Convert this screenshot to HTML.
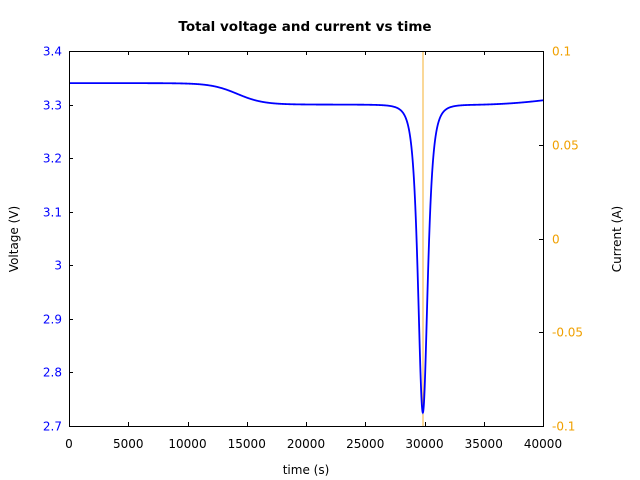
<!DOCTYPE html>
<html><head><meta charset="utf-8"><style>
html,body{margin:0;padding:0;background:#fff;}
svg{display:block;font-family:"DejaVu Sans","Liberation Sans",sans-serif;}
</style></head><body>
<svg id="s" width="640" height="480" viewBox="0 0 640 480" xmlns="http://www.w3.org/2000/svg">
<rect width="640" height="480" fill="#fff"/>
<text x="305" y="31" font-size="13.5" font-weight="bold" text-anchor="middle">Total voltage and current vs time</text>
<line x1="423" y1="51" x2="423" y2="426" stroke="#f5b030" stroke-width="1"/>
<path id="v" fill="none" stroke="#0000ff" stroke-width="1.8"/>
<rect x="69.5" y="51.5" width="474" height="375" fill="none" stroke="#000" stroke-width="1"/>
<g id="ticks" stroke="#000" stroke-width="1"></g>
<g id="lbl" font-size="12"></g>
<text x="306" y="474" font-size="12" text-anchor="middle">time (s)</text>
<text transform="translate(18,239) rotate(-90)" font-size="12" text-anchor="middle">Voltage (V)</text>
<text transform="translate(621,239) rotate(-90)" font-size="12" text-anchor="middle">Current (A)</text>
</svg>
<script>
var NS="http://www.w3.org/2000/svg";
function X(t){return 69+t/40000*474;}
function Y(v){return 51+(3.4-v)/0.7*375;}
function V(t){
 var v=3.34-0.04/(1+Math.exp(-(t-14200)/1100));
 var d=(t-29860)/740; v-=0.575/Math.pow(1+d*d,2);
 if(t>34000){var u=(t-34000)/6000;v+=0.008*u*u;}
 return v;}
var p="";for(var t=0;t<=40000;t+=20){p+=(t?"L":"M")+X(t).toFixed(2)+" "+Y(V(t)).toFixed(2);}
document.getElementById("v").setAttribute("d",p);
var tk=document.getElementById("ticks"),lb=document.getElementById("lbl");
function ln(a,b,c,d){var l=document.createElementNS(NS,"line");l.setAttribute("x1",a);l.setAttribute("y1",b);l.setAttribute("x2",c);l.setAttribute("y2",d);tk.appendChild(l);}
function tx(x,y,s,anc,col){var e=document.createElementNS(NS,"text");e.setAttribute("x",x);e.setAttribute("y",y);e.setAttribute("text-anchor",anc);e.setAttribute("fill",col);e.textContent=s;lb.appendChild(e);}
for(var i=0;i<=8;i++){var x=Math.round(X(i*5000))+0.5;ln(x,51,x,55);ln(x,426,x,422);tx(X(i*5000),448,String(i*5000),"middle","#000");}
var vl=["3.4","3.3","3.2","3.1","3","2.9","2.8","2.7"];
for(var i=0;i<8;i++){var y=Math.round(51+i*375/7)+0.5;ln(69,y,73,y);tx(62,y+4,vl[i],"end","#0000ff");}
var cl=["0.1","0.05","0","-0.05","-0.1"];
for(var i=0;i<5;i++){var y=Math.round(51+i*375/4)+0.5;ln(543,y,539,y);tx(552,y+4,cl[i],"start","#f0a000");}
</script>
</body></html>
